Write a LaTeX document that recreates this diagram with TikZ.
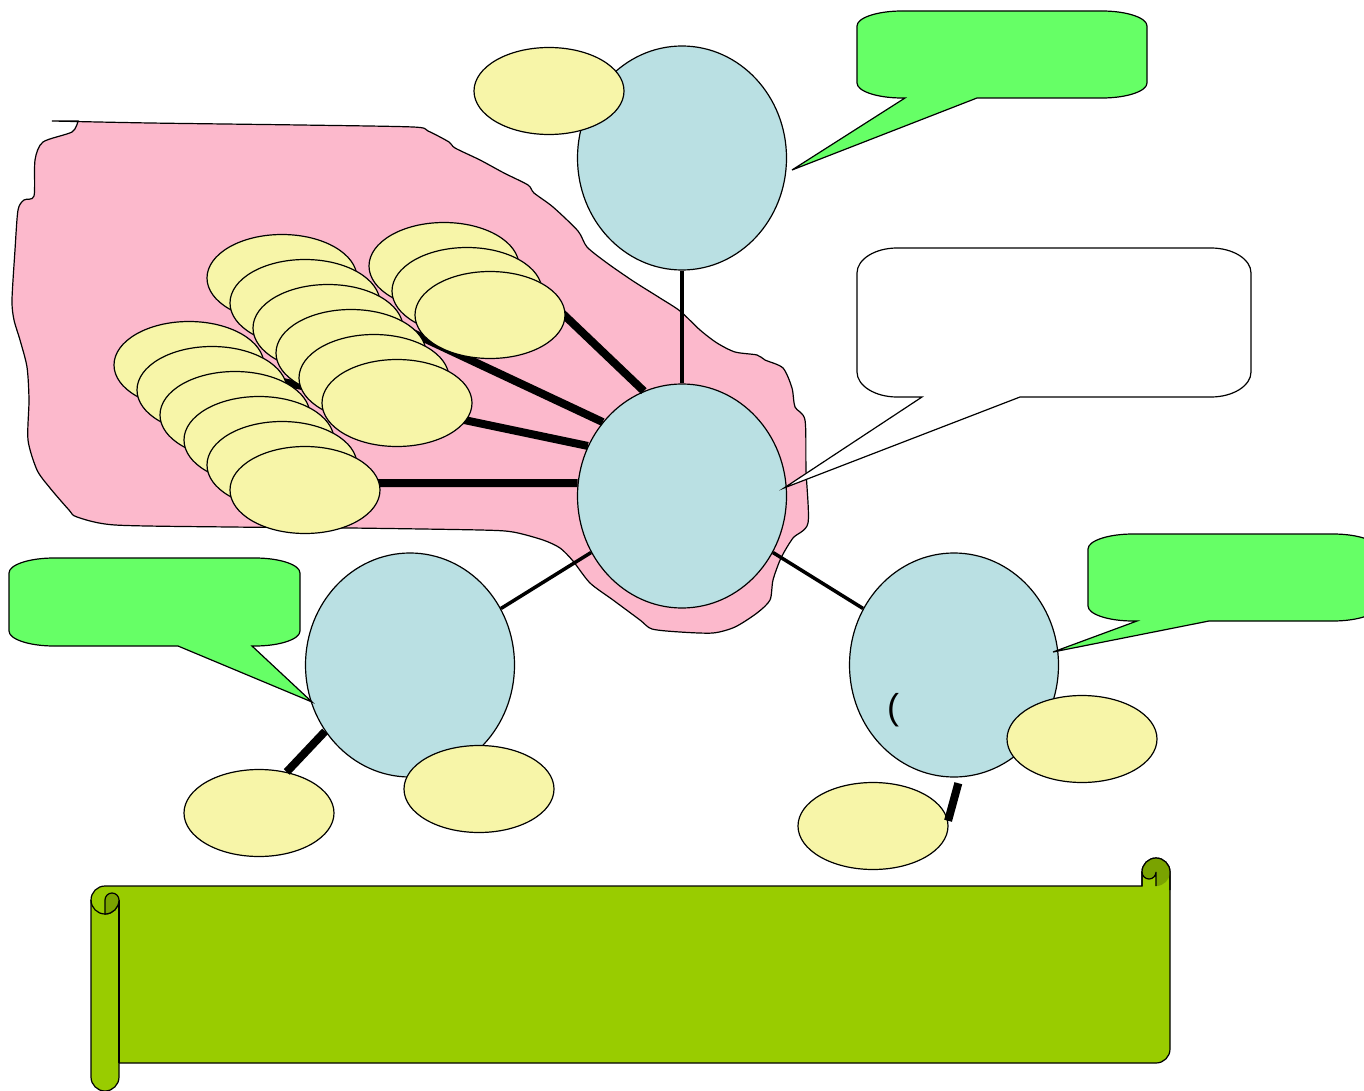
\documentclass[tikz,border=0pt]{standalone}
\usepackage{fontspec}
\newfontfamily\parenfont{Liberation Sans}
\usetikzlibrary{shapes.geometric}
\pgfdeclarelayer{blob}
\pgfdeclarelayer{wires}
\pgfsetlayers{blob,wires,main}

\definecolor{hubblue}{HTML}{BAE0E3}
\definecolor{pale}{HTML}{F7F5A8}
\definecolor{blush}{HTML}{FCB9CC}
\definecolor{leaf}{HTML}{66FF66}
\definecolor{scrollgreen}{HTML}{99CC00}
\definecolor{scrolldark}{HTML}{7AA300}

% rounded speech bubble: fill, left, top, right, bottom, base x1, base x2, tip
\def\crx{45}\def\cry{15}
\newcommand\drawbubble[8]{%
  \draw[outline, fill=#1] (#6,#5) -- (#8) -- (#7,#5) -- ({#4-\crx},#5)
    .. controls ({#4-0.45*\crx},#5) and (#4,{#5-0.45*\cry}) .. (#4,{#5-\cry})
    -- (#4,{#3+\cry})
    .. controls (#4,{#3+0.45*\cry}) and ({#4-0.45*\crx},#3) .. ({#4-\crx},#3)
    -- ({#2+\crx},#3)
    .. controls ({#2+0.45*\crx},#3) and (#2,{#3+0.45*\cry}) .. (#2,{#3+\cry})
    -- (#2,{#5-\cry})
    .. controls (#2,{#5-0.45*\cry}) and ({#2+0.45*\crx},#5) .. ({#2+\crx},#5)
    -- cycle;}

\begin{document}
\begin{tikzpicture}[x=1pt, y=-1pt,
  outline/.style={draw=black, line width=1.2pt},
  hub/.style={ellipse, outline, fill=hubblue, minimum width=209pt, minimum height=224pt, inner sep=0pt},
  leafnode/.style={ellipse, outline, fill=pale, minimum width=150pt, minimum height=87pt, inner sep=0pt},
  spoke/.style={line width=3.5pt},
  heavy/.style={line width=8pt}]
\useasboundingbox (0,0) rectangle (1364,1091);
\clip (0,0) rectangle (1364,1091);

% hubs
\node[hub] (h0) at (682,496) {};
\node[hub] (h1) at (682,158) {};
\node[hub] (h2) at (410,665) {};
\node[hub] (h3) at (954,665) {};

% pink patch behind the central hub
\begin{pgfonlayer}{blob}
\draw[outline, fill=blush] plot[smooth, tension=0.45] coordinates {
 (52,121) (150,123) (300,125) (413,127) (428,131) (449,142) (455,148)
 (480,160) (504,173) (528,185) (534,193) (553,207) (578,231) (587,247)
 (607,263) (633,281) (660,298) (680,311) (700,330) (717,343) (735,352)
 (757,355) (765,360) (783,368) (792,388) (795,407) (805,420) (806,470)
 (808,523) (793,538) (781,558) (773,580) (770,600) (757,613) (735,627)
 (713,633) (680,632) (652,629) (640,620) (613,600) (590,583) (573,561)
 (560,548) (543,540) (513,532) (480,530) (350,528) (230,527) (115,525)
 (77,517) (69,510) (50,488) (37,470) (28,440) (29,400) (27,367) (20,340)
 (14,320) (12,300) (15,250) (18,210) (24,200) (34,196) (35,160) (43,142)
 (72,132) (78,121)} -- cycle;
\end{pgfonlayer}

% thin spokes between hubs
\begin{pgfonlayer}{wires}
\draw[spoke] (h1) -- (h0);
\draw[spoke] (h0) -- (h2);
\draw[spoke] (h0) -- (h3);
\end{pgfonlayer}

% heavy spokes from the clusters
\coordinate (s1) at (540,292);
\coordinate (s2) at (400,327);
\coordinate (s3) at (283,382);
\coordinate (s4) at (305,483);
\draw[heavy] (s1) -- (h0.110);
\draw[heavy] (s2) -- (h0.137);
\draw[heavy] (s3) -- (h0.152);
\draw[heavy] (s4) -- (h0.173);

% left cluster
\foreach \i/\x/\y in {1/189/365, 2/212/390, 3/235/415, 4/259/440, 5/282/465, 6/305/490}
  \node[leafnode] (c\i) at (\x,\y) {};
% middle cluster
\foreach \i/\x/\y in {1/282/278, 2/305/303, 3/328/328, 4/351/353, 5/374/378, 6/397/403}
  \node[leafnode] (b\i) at (\x,\y) {};
% upper cluster
\foreach \i/\x/\y in {1/444/266, 2/467/291, 3/490/315}
  \node[leafnode] (a\i) at (\x,\y) {};

% single leaves
\node[leafnode] (y0) at (549,91) {};
\node[leafnode] (y1) at (259,813) {};
\node[leafnode] (y2) at (479,789) {};
\node[leafnode] (y3) at (873,826) {};
\node[leafnode] (y4) at (1082,739) {};

\draw[heavy] (h2.218) -- (y1.56);
\draw[heavy, shorten <=6pt] (h3.273) -- (y3.4);

\node[font=\parenfont\fontsize{36}{36}\selectfont, inner sep=0pt] (paren) at (893,710) {(};

% speech bubbles
\coordinate (t1) at (792,170);
\coordinate (t2) at (784,488);
\coordinate (t3) at (1053,652);
\coordinate (t4) at (312,702);
\drawbubble{leaf}{857}{11}{1147}{98}{905}{977}{t1}
\def\crx{40}\def\cry{25}
\drawbubble{white}{857}{248}{1251}{397}{922}{1020}{t2}
\def\crx{45}\def\cry{15}
\drawbubble{leaf}{1088}{534}{1378}{621}{1137}{1209}{t3}
\drawbubble{leaf}{9}{558}{300}{646}{178}{252}{t4}

% scroll banner
\draw[outline, fill=scrollgreen] (1170,872) arc[start angle=0,end angle=180,radius=14pt]
  -- (1142,886) -- (105,886) arc[start angle=90,end angle=180,radius=14pt]
  -- (91,1077) arc[start angle=180,end angle=360,radius=14pt]
  -- (119,1063) -- (1156,1063) arc[start angle=270,end angle=360,radius=14pt] -- cycle;
% left roll
\draw[outline] (119,900) -- (119,1063);
\draw[outline] (91,900) arc[start angle=180,end angle=360,radius=14pt];
\draw[outline, fill=scrolldark] (105,914) -- (105,900) arc[start angle=180,end angle=0,radius=7pt]
  arc[start angle=0,end angle=-90,radius=14pt] -- cycle;
% right roll
\fill[scrolldark] (1142,872) arc[start angle=180,end angle=0,radius=14pt]
  arc[start angle=0,end angle=-90,radius=14pt] -- (1156,872)
  arc[start angle=0,end angle=-180,radius=7pt] -- cycle;
\draw[outline] (1142,886) -- (1142,872) arc[start angle=180,end angle=0,radius=14pt] -- (1170,890);
\draw[outline] (1156,886) -- (1156,872) arc[start angle=0,end angle=-180,radius=7pt];
\end{tikzpicture}
\end{document}
